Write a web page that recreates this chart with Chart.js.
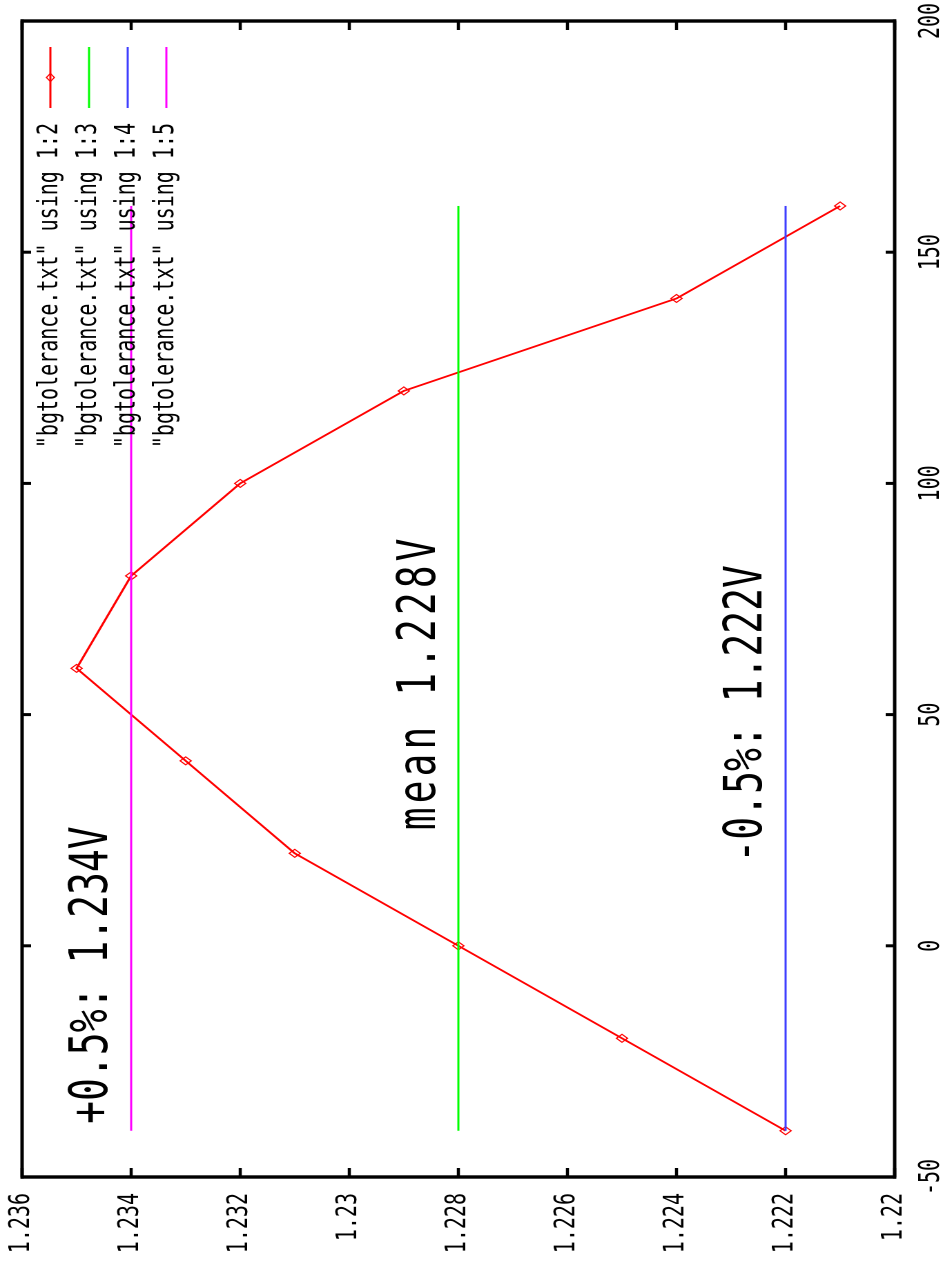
<!DOCTYPE html>
<html>
<head>
<meta charset="utf-8">
<title>bgtolerance</title>
<script src="https://cdn.jsdelivr.net/npm/chart.js@4"></script>
<style>
  html, body { margin: 0; padding: 0; background: #fff; overflow: hidden; }
  #wrap { position: relative; width: 943px; height: 1267px; overflow: hidden; background: #fff; }
  #plot { position: absolute; left: 0; top: 0; transform-origin: 0 0; }
</style>
</head>
<body>
<div id="wrap"><canvas id="plot" width="1267" height="683"></canvas></div>
<script>
// temperature (column 1) and the four voltage columns of bgtolerance.txt
const temps = [-40, -20, 0, 20, 40, 60, 80, 100, 120, 140, 160];
const vMeasured = [1.222, 1.225, 1.228, 1.231, 1.233, 1.235, 1.234, 1.232, 1.229, 1.224, 1.221];
const vMean = [1.228, 1.228, 1.228, 1.228, 1.228, 1.228, 1.228, 1.228, 1.228, 1.228, 1.228];
const vLow = [1.222, 1.222, 1.222, 1.222, 1.222, 1.222, 1.222, 1.222, 1.222, 1.222, 1.222];
const vHigh = [1.234, 1.234, 1.234, 1.234, 1.234, 1.234, 1.234, 1.234, 1.234, 1.234, 1.234];

const seriesNames = [
  '"bgtolerance.txt" using 1:2',
  '"bgtolerance.txt" using 1:3',
  '"bgtolerance.txt" using 1:4',
  '"bgtolerance.txt" using 1:5'
];
const seriesColors = ['#ff0000', '#00ff00', '#3f3fff', '#ff00ff'];

// text labels, placed at data coordinates (temp, volts)
const notes = ['+0.5%: 1.234V', 'mean 1.228V', '-0.5%: 1.222V'];
const noteTemp = [-38.5, 25, 18];
const noteVolt = [1.23444, 1.22843, 1.22244];

// gnuplot output is rotated and a bit stretched, so draw flat and turn the canvas
const STRETCH = 943 / 683;
const canvas = document.getElementById('plot');
canvas.style.transform = 'translate(0px, 1267px) rotate(-90deg) scaleY(' + STRETCH + ')';

Chart.defaults.font.family = '"DejaVu Sans Mono", "Liberation Mono", monospace';
Chart.defaults.color = '#000';

function pts(ys) {
  return temps.map((t, i) => ({ x: t, y: ys[i] }));
}

const gnuplotLook = {
  id: 'gnuplotLook',
  beforeDraw(chart) {
    const ctx = chart.ctx;
    ctx.save();
    ctx.fillStyle = '#fff';
    ctx.fillRect(0, 0, chart.width, chart.height);
    ctx.restore();
  },
  afterDatasetsDraw(chart) {
    const { ctx, chartArea: a, scales } = chart;
    const xs = scales.x, ys = scales.y;
    ctx.save();
    ctx.strokeStyle = '#000';
    ctx.lineCap = 'butt';

    // inward ticks on all four sides
    ctx.lineWidth = 2.2;
    ys.ticks.forEach(t => {
      const py = ys.getPixelForValue(t.value);
      ctx.beginPath();
      ctx.moveTo(a.left, py); ctx.lineTo(a.left + 9, py);
      ctx.moveTo(a.right, py); ctx.lineTo(a.right - 9, py);
      ctx.stroke();
    });
    ctx.lineWidth = 3;
    const tl = 9 / STRETCH;
    xs.ticks.forEach(t => {
      const px = xs.getPixelForValue(t.value);
      ctx.beginPath();
      ctx.moveTo(px, a.bottom); ctx.lineTo(px, a.bottom - tl);
      ctx.moveTo(px, a.top); ctx.lineTo(px, a.top + tl);
      ctx.stroke();
    });

    // border
    ctx.lineWidth = 3.4;
    ctx.beginPath();
    ctx.moveTo(a.left, a.top - 1); ctx.lineTo(a.left, a.bottom + 1);
    ctx.moveTo(a.right, a.top - 1); ctx.lineTo(a.right, a.bottom + 1);
    ctx.stroke();
    ctx.lineWidth = 2.5;
    ctx.beginPath();
    ctx.moveTo(a.left - 1.7, a.top); ctx.lineTo(a.right + 1.7, a.top);
    ctx.moveTo(a.left - 1.7, a.bottom); ctx.lineTo(a.right + 1.7, a.bottom);
    ctx.stroke();

    // big labels
    ctx.fillStyle = '#000';
    ctx.font = '38px "DejaVu Sans Mono", monospace';
    ctx.textAlign = 'left';
    ctx.textBaseline = 'alphabetic';
    notes.forEach((txt, i) => {
      ctx.letterSpacing = i === 1 ? '4px' : '0px';
      ctx.fillText(txt, xs.getPixelForValue(noteTemp[i]), ys.getPixelForValue(noteVolt[i]));
    });
    ctx.letterSpacing = '0px';

    // key, top right like gnuplot
    ctx.font = '20px "DejaVu Sans Mono", monospace';
    ctx.textAlign = 'right';
    ctx.textBaseline = 'middle';
    seriesNames.forEach((name, i) => {
      const ky = a.top + 20.5 + i * 28;
      ctx.fillStyle = '#000';
      ctx.fillText(name, a.right - 102, ky);
      ctx.strokeStyle = seriesColors[i];
      ctx.lineWidth = 1.5;
      ctx.beginPath();
      ctx.moveTo(a.right - 87, ky); ctx.lineTo(a.right - 26, ky);
      ctx.stroke();
      if (i === 0) {
        const cx = a.right - 56.5;
        ctx.lineWidth = 1;
        ctx.beginPath();
        ctx.moveTo(cx - 4, ky); ctx.lineTo(cx, ky - 4 / STRETCH);
        ctx.lineTo(cx + 4, ky); ctx.lineTo(cx, ky + 4 / STRETCH);
        ctx.closePath();
        ctx.stroke();
      }
    });
    ctx.restore();
  }
};

const hiddenGrid = (len) => ({
  display: true,
  drawOnChartArea: false,
  drawTicks: true,
  tickLength: len,
  tickColor: 'rgba(0,0,0,0)',
  color: 'rgba(0,0,0,0)'
});

const chart = new Chart(canvas.getContext('2d'), {
  type: 'line',
  data: {
    datasets: [{
      label: seriesNames[0],
      data: pts(vMeasured),
      borderColor: seriesColors[0],
      borderWidth: 1.7,
      pointStyle: 'rectRot',
      pointRadius: 4,
      pointBorderWidth: 1,
      pointBorderColor: seriesColors[0],
      pointBackgroundColor: 'rgba(255,255,255,0)',
      tension: 0,
      order: 4
    }, {
      label: seriesNames[1],
      data: pts(vMean),
      borderColor: seriesColors[1],
      borderWidth: 1.5,
      pointRadius: 0,
      order: 3
    }, {
      label: seriesNames[2],
      data: pts(vLow),
      borderColor: seriesColors[2],
      borderWidth: 1.5,
      pointRadius: 0,
      order: 2
    }, {
      label: seriesNames[3],
      data: pts(vHigh),
      borderColor: seriesColors[3],
      borderWidth: 1.5,
      pointRadius: 0,
      order: 1
    }]
  },
  options: {
    responsive: false,
    animation: false,
    devicePixelRatio: 2,
    layout: { padding: { top: 16, right: 21, left: 0, bottom: 0 } },
    plugins: {
      legend: { display: false },
      tooltip: { enabled: false }
    },
    scales: {
      x: {
        type: 'linear',
        min: -50,
        max: 200,
        grid: hiddenGrid(15),
        border: { display: false },
        ticks: {
          stepSize: 50,
          padding: 0,
          autoSkip: false,
          maxRotation: 0,
          font: { size: 20 },
          callback: v => String(v)
        },
        afterFit(s) { s.height = 35; }
      },
      y: {
        type: 'linear',
        min: 1.22,
        max: 1.236,
        grid: hiddenGrid(16),
        border: { display: false },
        ticks: {
          stepSize: 0.002,
          padding: 0,
          autoSkip: false,
          font: { size: 20 },
          callback: v => String(+v.toFixed(3))
        },
        afterFit(s) { s.width = 90; }
      }
    }
  },
  plugins: [gnuplotLook]
});
</script>
</body>
</html>
